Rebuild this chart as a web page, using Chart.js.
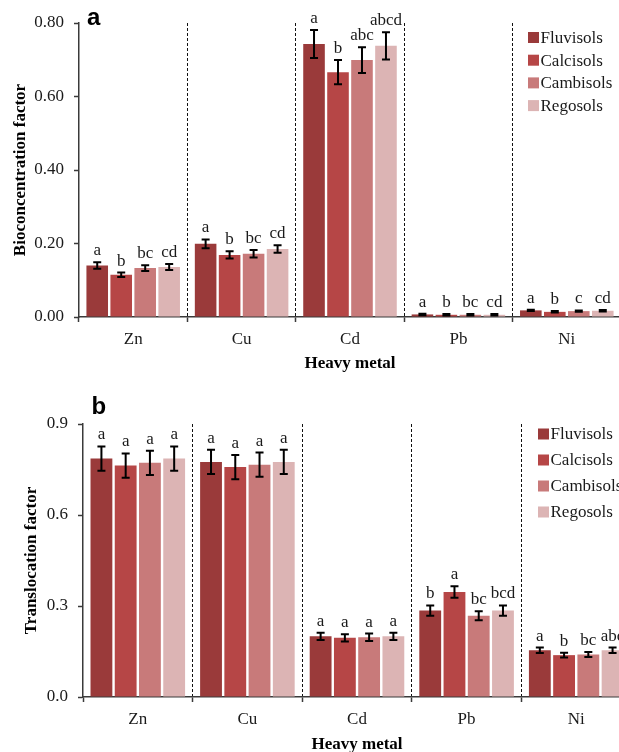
<!DOCTYPE html>
<html><head><meta charset="utf-8">
<script src="https://cdn.jsdelivr.net/npm/chart.js@4"></script>
<style>
html,body{margin:0;padding:0;background:#fff;overflow:hidden;width:619px;height:752px}
#wa{position:absolute;left:0;top:0}
#wb{position:absolute;left:0;top:378px}
</style></head><body>
<div id="wa"><canvas id="ca" width="630" height="378"></canvas></div>
<div id="wb"><canvas id="cb" width="640" height="380"></canvas></div>
<script>
const categories = ['Zn', 'Cu', 'Cd', 'Pb', 'Ni'];
const soils = ['Fluvisols', 'Calcisols', 'Cambisols', 'Regosols'];
const soilColors = ['#9a3a3a', '#b64646', '#c87a7a', '#dcb4b4'];

// Panel a: Bioconcentration factor
const bcfFluvisols = [0.140, 0.199, 0.743, 0.007, 0.018];
const bcfCalcisols = [0.115, 0.169, 0.666, 0.006, 0.014];
const bcfCambisols = [0.133, 0.172, 0.699, 0.006, 0.016];
const bcfRegosols  = [0.136, 0.185, 0.738, 0.006, 0.017];
const bcfErrFluvisols = [0.009, 0.012, 0.038, 0.002, 0.002];
const bcfErrCalcisols = [0.006, 0.010, 0.033, 0.002, 0.002];
const bcfErrCambisols = [0.008, 0.010, 0.035, 0.002, 0.002];
const bcfErrRegosols  = [0.008, 0.010, 0.037, 0.002, 0.002];
const bcfLetFluvisols = ['a', 'a', 'a', 'a', 'a'];
const bcfLetCalcisols = ['b', 'b', 'b', 'b', 'b'];
const bcfLetCambisols = ['bc', 'bc', 'abc', 'bc', 'c'];
const bcfLetRegosols  = ['cd', 'cd', 'abcd', 'cd', 'cd'];
const bcfTicks = [0, 0.2, 0.4, 0.6, 0.8];

// Panel b: Translocation factor
const tfFluvisols = [0.786, 0.775, 0.200, 0.285, 0.154];
const tfCalcisols = [0.763, 0.758, 0.195, 0.346, 0.138];
const tfCambisols = [0.772, 0.766, 0.197, 0.268, 0.140];
const tfRegosols  = [0.786, 0.775, 0.200, 0.285, 0.154];
const tfErrFluvisols = [0.040, 0.040, 0.012, 0.017, 0.009];
const tfErrCalcisols = [0.040, 0.040, 0.012, 0.019, 0.008];
const tfErrCambisols = [0.040, 0.040, 0.012, 0.015, 0.008];
const tfErrRegosols  = [0.040, 0.040, 0.012, 0.017, 0.009];
const tfLetFluvisols = ['a', 'a', 'a', 'b', 'a'];
const tfLetCalcisols = ['a', 'a', 'a', 'a', 'b'];
const tfLetCambisols = ['a', 'a', 'a', 'bc', 'bc'];
const tfLetRegosols  = ['a', 'a', 'a', 'bcd', 'abc'];
const tfTicks = [0, 0.3, 0.6, 0.9];

const SERIF = '"Liberation Serif","Times New Roman",serif';
const AXIS = '#3a3a3a';

const annot = {
  id: 'annot',
  afterDatasetsDraw(chart, args, o) {
    const ctx = chart.ctx, y = chart.scales.y;
    chart.data.datasets.forEach((ds, i) => {
      const meta = chart.getDatasetMeta(i);
      meta.data.forEach((bar, j) => {
        const v = ds.data[j], e = o.errors[i][j];
        const yt = y.getPixelForValue(v + e), yb = y.getPixelForValue(Math.max(0, v - e));
        ctx.save();
        ctx.strokeStyle = '#000'; ctx.lineWidth = 2;
        ctx.beginPath();
        ctx.moveTo(bar.x, yt); ctx.lineTo(bar.x, yb);
        ctx.moveTo(bar.x - 4, yt); ctx.lineTo(bar.x + 4, yt);
        ctx.moveTo(bar.x - 4, yb); ctx.lineTo(bar.x + 4, yb);
        ctx.stroke();
        ctx.font = '17px ' + SERIF; ctx.fillStyle = '#1a1a1a';
        ctx.textAlign = 'center'; ctx.textBaseline = 'alphabetic';
        ctx.fillText(o.letters[i][j], bar.x, yt - 7);
        ctx.restore();
      });
    });
    // legend
    ctx.save();
    ctx.font = '17px ' + SERIF; ctx.textBaseline = 'middle'; ctx.textAlign = 'left';
    chart.data.datasets.forEach((ds, i) => {
      const cy = o.legY + i * o.legGap;
      ctx.fillStyle = ds.backgroundColor;
      ctx.fillRect(o.legX, cy - 5.5, 11, 11);
      ctx.fillStyle = '#1a1a1a';
      ctx.fillText(ds.label, o.legX + 12.5, cy + 1);
    });
    // panel label
    ctx.font = 'bold 24px "Liberation Sans",Arial,sans-serif';
    ctx.fillStyle = '#000'; ctx.textBaseline = 'alphabetic';
    ctx.fillText(o.panel, o.panelX, o.panelY);
    ctx.restore();
  }
};

function makeChart(id, seriesData, errors, letters, ticks, decimals, yTitle, geo) {
  return new Chart(document.getElementById(id), {
    type: 'bar',
    data: {
      labels: categories,
      datasets: soils.map((s, i) => ({
        label: s, data: seriesData[i], backgroundColor: soilColors[i],
        borderWidth: 0, barPercentage: 0.9, categoryPercentage: 0.885
      }))
    },
    plugins: [annot],
    options: {
      responsive: false, animation: false, devicePixelRatio: 1,
      layout: { padding: { left: geo.padLeft, right: geo.padRight, top: geo.padTop, bottom: 0 } },
      plugins: {
        legend: { display: false }, tooltip: { enabled: false },
        annot: { errors, letters, legX: geo.legX, legY: geo.legY, legGap: geo.legGap,
                 panel: geo.panel, panelX: geo.panelX, panelY: geo.panelY }
      },
      scales: {
        x: {
          afterFit: s => { s.height = geo.xHeight; },
          grid: {
            offset: true, lineWidth: 1, tickLength: 5, tickWidth: 1.5,
            color: c => c.index === 0 ? 'rgba(0,0,0,0)' : '#111',
            tickColor: AXIS
          },
          border: { display: true, color: AXIS, width: 1.5, dash: [3, 2] },
          ticks: { font: { family: SERIF, size: 17 }, color: '#1a1a1a', padding: 7 },
          title: { display: true, text: 'Heavy metal', font: { family: SERIF, size: 17, weight: 'bold' },
                   color: '#000', padding: { top: 0, bottom: geo.xTitlePad } }
        },
        y: {
          min: 0, max: ticks[ticks.length - 1],
          afterFit: s => { s.width = geo.yWidth; },
          afterBuildTicks: s => { s.ticks = ticks.map(v => ({ value: v })); },
          grid: { drawOnChartArea: false, drawTicks: true, tickLength: 5, tickWidth: 1.5, tickColor: AXIS, color: AXIS },
          border: { display: true, color: AXIS, width: 1.5 },
          ticks: { font: { family: SERIF, size: 17 }, color: '#1a1a1a', padding: 10,
                   callback: v => Number(v).toFixed(decimals) },
          title: { display: true, text: yTitle, font: { family: SERIF, size: 17, weight: 'bold' },
                   color: '#000', padding: { top: geo.yTitlePad, bottom: 0 } }
        }
      }
    }
  });
}

makeChart('ca',
  [bcfFluvisols, bcfCalcisols, bcfCambisols, bcfRegosols],
  [bcfErrFluvisols, bcfErrCalcisols, bcfErrCambisols, bcfErrRegosols],
  [bcfLetFluvisols, bcfLetCalcisols, bcfLetCambisols, bcfLetRegosols],
  bcfTicks, 2, 'Bioconcentration factor',
  { padLeft: 4, padRight: 9, padTop: 23, yWidth: 75, xHeight: 61, xTitlePad: 4, yTitlePad: 6,
    legX: 528, legY: 37.5, legGap: 22.7, panel: 'a', panelX: 87, panelY: 25 });

makeChart('cb',
  [tfFluvisols, tfCalcisols, tfCambisols, tfRegosols],
  [tfErrFluvisols, tfErrCalcisols, tfErrCambisols, tfErrRegosols],
  [tfLetFluvisols, tfLetCalcisols, tfLetCambisols, tfLetRegosols],
  tfTicks, 1, 'Translocation factor',
  { padLeft: 15, padRight: 9, padTop: 46, yWidth: 68, xHeight: 61, xTitlePad: 3, yTitlePad: 6,
    legX: 538, legY: 56, legGap: 26, panel: 'b', panelX: 91.5, panelY: 36 });
</script>
</body></html>
